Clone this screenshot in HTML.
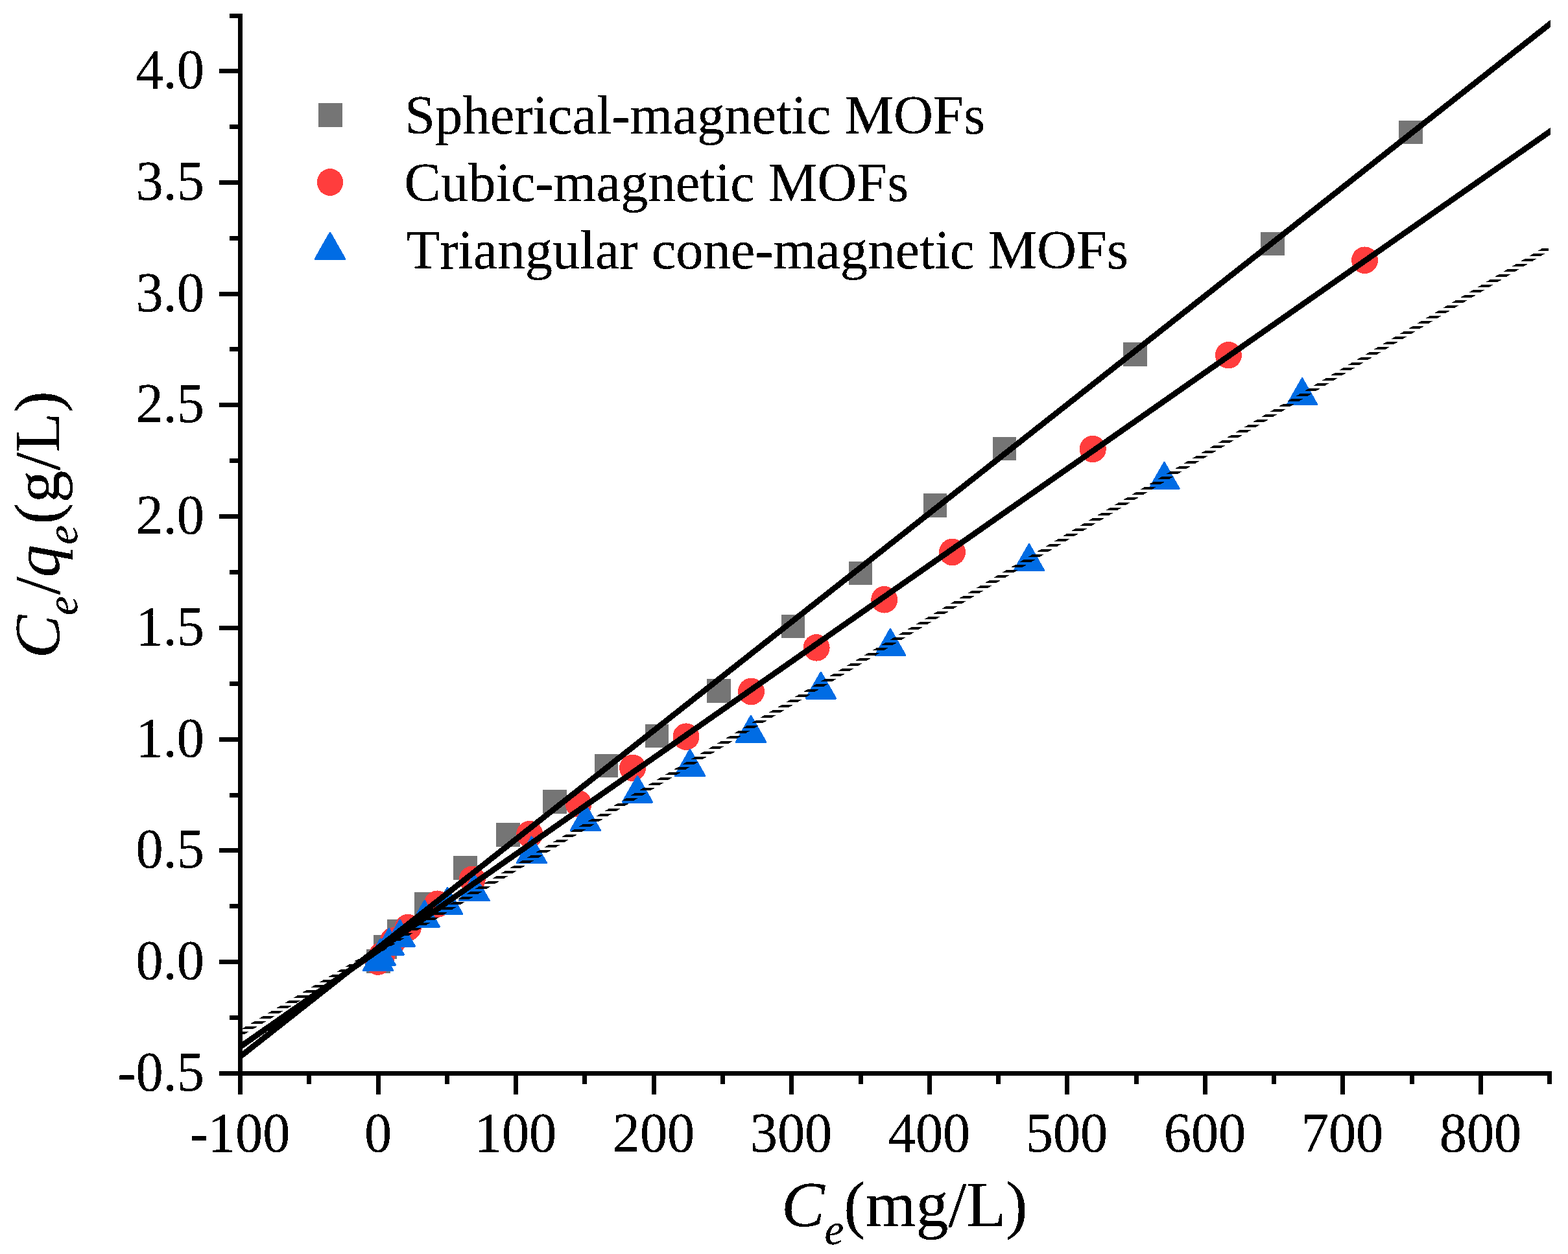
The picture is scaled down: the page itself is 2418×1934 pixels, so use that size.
<!DOCTYPE html>
<html lang="en"><head><meta charset="utf-8"><title>Langmuir isotherm fit</title>
<style>html,body{margin:0;padding:0;background:#fff}svg{display:block}text{font-family:"Liberation Serif","DejaVu Serif",serif;fill:#000;font-kerning:none}.tk{font-size:84.4px}.ti{font-size:100px}.lg{font-size:84.6px}.i{font-style:italic}.sb{font-size:67px;font-style:italic}</style></head><body>
<svg role="img" aria-label="Langmuir linear fit of Ce/qe versus Ce for three magnetic MOFs" width="2418" height="1934" viewBox="0 0 2418 1934">
<rect width="2418" height="1934" fill="#fff"/>
<defs>
<filter id="bw" x="-5%" y="-20%" width="110%" height="140%" color-interpolation-filters="sRGB"><feComponentTransfer><feFuncA type="discrete" tableValues="0 1 1"/></feComponentTransfer></filter>
<pattern id="hs" patternUnits="userSpaceOnUse" x="0" y="-1" width="64" height="8"><rect x="0" y="0" width="64" height="4" fill="#000"/></pattern>
<clipPath id="cp"><rect x="370" y="20" width="2021" height="1640"/></clipPath>
<clipPath id="cp3"><rect x="370" y="382" width="2018" height="1278"/></clipPath>
</defs>
<g fill="#757575" shape-rendering="crispEdges">
<rect x="565" y="1464" width="37" height="37"/>
<rect x="576" y="1442" width="36" height="37"/>
<rect x="597" y="1418" width="37" height="37"/>
<rect x="639" y="1376" width="37" height="37"/>
<rect x="699" y="1320" width="37" height="37"/>
<rect x="765" y="1269" width="37" height="37"/>
<rect x="837" y="1218" width="37" height="37"/>
<rect x="917" y="1163" width="36" height="36"/>
<rect x="995" y="1117" width="36" height="36"/>
<rect x="1090" y="1047" width="37" height="37"/>
<rect x="1205" y="948" width="36" height="36"/>
<rect x="1309" y="866" width="36" height="36"/>
<rect x="1424" y="761" width="36" height="37"/>
<rect x="1531" y="674" width="36" height="36"/>
<rect x="1732" y="528" width="37" height="37"/>
<rect x="1944" y="358" width="37" height="36"/>
<rect x="2157" y="186" width="37" height="36"/>
</g>
<g fill="#FF3D3D" shape-rendering="crispEdges">
<ellipse cx="582.8" cy="1483.1" rx="20.5" ry="20.75"/>
<ellipse cx="589.0" cy="1473.4" rx="20.5" ry="20.75"/>
<ellipse cx="606.2" cy="1451.0" rx="20.5" ry="20.75"/>
<ellipse cx="629.3" cy="1430.6" rx="20.5" ry="20.75"/>
<ellipse cx="674.3" cy="1394.2" rx="20.5" ry="20.75"/>
<ellipse cx="728.3" cy="1356.3" rx="20.5" ry="20.75"/>
<ellipse cx="816.7" cy="1286.5" rx="20.5" ry="20.75"/>
<ellipse cx="892.1" cy="1239.7" rx="20.5" ry="20.75"/>
<ellipse cx="975.6" cy="1184.3" rx="20.5" ry="20.75"/>
<ellipse cx="1058.0" cy="1136.2" rx="20.5" ry="20.75"/>
<ellipse cx="1158.5" cy="1066.5" rx="20.5" ry="20.75"/>
<ellipse cx="1259.1" cy="998.9" rx="20.5" ry="20.75"/>
<ellipse cx="1363.7" cy="924.8" rx="20.5" ry="20.75"/>
<ellipse cx="1468.5" cy="851.5" rx="20.5" ry="20.75"/>
<ellipse cx="1685.3" cy="692.5" rx="20.5" ry="20.75"/>
<ellipse cx="1894.4" cy="547.7" rx="20.5" ry="20.75"/>
<ellipse cx="2104.6" cy="401.2" rx="20.5" ry="20.75"/>
</g>
<g fill="#006CE4" stroke="#006CE4" stroke-width="3.0" stroke-linejoin="round" shape-rendering="crispEdges">
<path d="M560.35 1496.40L583.10 1456.40L605.85 1496.40Z"/>
<path d="M564.05 1488.40L586.80 1448.40L609.55 1488.40Z"/>
<path d="M577.05 1472.40L599.80 1432.40L622.55 1472.40Z"/>
<path d="M593.95 1459.30L616.70 1419.30L639.45 1459.30Z"/>
<path d="M632.05 1429.40L654.80 1389.40L677.55 1429.40Z"/>
<path d="M667.25 1409.30L690.00 1369.30L712.75 1409.30Z"/>
<path d="M708.65 1388.90L731.40 1348.90L754.15 1388.90Z"/>
<path d="M797.15 1330.90L819.90 1290.90L842.65 1330.90Z"/>
<path d="M880.05 1280.80L902.80 1240.80L925.55 1280.80Z"/>
<path d="M960.25 1237.20L983.00 1197.20L1005.75 1237.20Z"/>
<path d="M1041.25 1196.40L1064.00 1156.40L1086.75 1196.40Z"/>
<path d="M1135.25 1144.40L1158.00 1104.40L1180.75 1144.40Z"/>
<path d="M1243.15 1077.20L1265.90 1037.20L1288.65 1077.20Z"/>
<path d="M1350.25 1010.40L1373.00 970.40L1395.75 1010.40Z"/>
<path d="M1564.15 879.60L1586.90 839.60L1609.65 879.60Z"/>
<path d="M1772.65 753.50L1795.40 713.50L1818.15 753.50Z"/>
<path d="M1985.35 623.90L2008.10 583.90L2030.85 623.90Z"/>
</g>
<g clip-path="url(#cp)" stroke="#000" stroke-width="8.9" fill="none" shape-rendering="crispEdges">
<line x1="360" y1="1637.84" x2="2400" y2="29.10"/>
<line x1="360" y1="1621.74" x2="2400" y2="195.88"/>
</g>
<g clip-path="url(#cp3)" shape-rendering="crispEdges">
<path fill="url(#hs)" d="M351.15 1599.92L2391.15 375.29L2408.85 375.29L368.85 1599.92Z"/>
</g>
<g fill="#000" shape-rendering="crispEdges">
<rect x="367" y="21" width="7" height="1667"/>
<rect x="338" y="1652" width="2055" height="7"/>
<rect x="338" y="1652" width="32" height="7"/>
<rect x="354" y="1566" width="16" height="7"/>
<rect x="338" y="1480" width="32" height="7"/>
<rect x="354" y="1394" width="16" height="7"/>
<rect x="338" y="1308" width="32" height="7"/>
<rect x="354" y="1223" width="16" height="7"/>
<rect x="338" y="1137" width="32" height="7"/>
<rect x="354" y="1051" width="16" height="7"/>
<rect x="338" y="965" width="32" height="7"/>
<rect x="354" y="879" width="16" height="7"/>
<rect x="338" y="793" width="32" height="7"/>
<rect x="354" y="707" width="16" height="7"/>
<rect x="338" y="621" width="32" height="7"/>
<rect x="354" y="535" width="16" height="7"/>
<rect x="338" y="450" width="32" height="7"/>
<rect x="354" y="364" width="16" height="7"/>
<rect x="338" y="278" width="32" height="7"/>
<rect x="354" y="192" width="16" height="7"/>
<rect x="338" y="106" width="32" height="7"/>
<rect x="354" y="21" width="16" height="7"/>
<rect x="367" y="1655" width="7" height="33"/>
<rect x="473" y="1655" width="7" height="17"/>
<rect x="580" y="1655" width="7" height="33"/>
<rect x="686" y="1655" width="7" height="17"/>
<rect x="792" y="1655" width="7" height="33"/>
<rect x="898" y="1655" width="7" height="17"/>
<rect x="1005" y="1655" width="7" height="33"/>
<rect x="1111" y="1655" width="7" height="17"/>
<rect x="1217" y="1655" width="7" height="33"/>
<rect x="1324" y="1655" width="7" height="17"/>
<rect x="1430" y="1655" width="7" height="33"/>
<rect x="1536" y="1655" width="7" height="17"/>
<rect x="1642" y="1655" width="7" height="33"/>
<rect x="1749" y="1655" width="7" height="17"/>
<rect x="1855" y="1655" width="7" height="33"/>
<rect x="1961" y="1655" width="7" height="17"/>
<rect x="2067" y="1655" width="7" height="33"/>
<rect x="2174" y="1655" width="7" height="17"/>
<rect x="2280" y="1655" width="7" height="33"/>
<rect x="2386" y="1655" width="7" height="17"/>
</g>
<g class="tk" text-anchor="end" filter="url(#bw)">
<text transform="translate(315 1681.9) scale(1 1.03)">-0.5</text>
<text transform="translate(315 1509.9) scale(1 1.03)">0.0</text>
<text transform="translate(315 1337.9) scale(1 1.03)">0.5</text>
<text transform="translate(315 1166.9) scale(1 1.03)">1.0</text>
<text transform="translate(315 994.9) scale(1 1.03)">1.5</text>
<text transform="translate(315 822.9) scale(1 1.03)">2.0</text>
<text transform="translate(315 650.9) scale(1 1.03)">2.5</text>
<text transform="translate(315 479.9) scale(1 1.03)">3.0</text>
<text transform="translate(315 307.9) scale(1 1.03)">3.5</text>
<text transform="translate(315 135.9) scale(1 1.03)">4.0</text>
</g>
<g class="tk" text-anchor="middle" filter="url(#bw)">
<text transform="translate(370.0 1776) scale(1 1.03)">-100</text>
<text transform="translate(583.0 1776) scale(1 1.03)">0</text>
<text transform="translate(795.0 1776) scale(1 1.03)">100</text>
<text transform="translate(1008.0 1776) scale(1 1.03)">200</text>
<text transform="translate(1220.0 1776) scale(1 1.03)">300</text>
<text transform="translate(1433.0 1776) scale(1 1.03)">400</text>
<text transform="translate(1645.0 1776) scale(1 1.03)">500</text>
<text transform="translate(1858.0 1776) scale(1 1.03)">600</text>
<text transform="translate(2070.0 1776) scale(1 1.03)">700</text>
<text transform="translate(2283.0 1776) scale(1 1.03)">800</text>
</g>
<text class="ti" filter="url(#bw)" x="1204.9" y="1890.8"><tspan class="i">C</tspan><tspan class="sb" dy="28.5">e</tspan><tspan dy="-28.5">(mg/L)</tspan></text>
<g filter="url(#bw)"><text class="ti" transform="translate(90.5 1016) rotate(-90)"><tspan class="i" x="0.7">C</tspan><tspan class="sb" x="67" dy="28.5">e</tspan><tspan x="98.7" dy="-28.5">/</tspan><tspan class="i" x="125.75">q</tspan><tspan class="sb" x="176.25" dy="28.5">e</tspan><tspan x="207.3" dy="-28.5">(g/L)</tspan></text></g>
<rect x="491" y="159" width="37" height="37" fill="#757575" shape-rendering="crispEdges"/>
<ellipse cx="509" cy="281" rx="20.2" ry="21" fill="#FF3D3D" shape-rendering="crispEdges"/>
<path d="M486.25 399.30L509.00 359.30L531.75 399.30Z" fill="#006CE4" stroke="#006CE4" stroke-width="3.0" stroke-linejoin="round" shape-rendering="crispEdges"/>
<g class="lg" filter="url(#bw)">
<text x="624" y="206">Spherical-magnetic MOFs</text>
<text x="623.5" y="310">Cubic-magnetic MOFs</text>
<text x="626.5" y="414">Triangular cone-magnetic MOFs</text>
</g>
</svg></body></html>
